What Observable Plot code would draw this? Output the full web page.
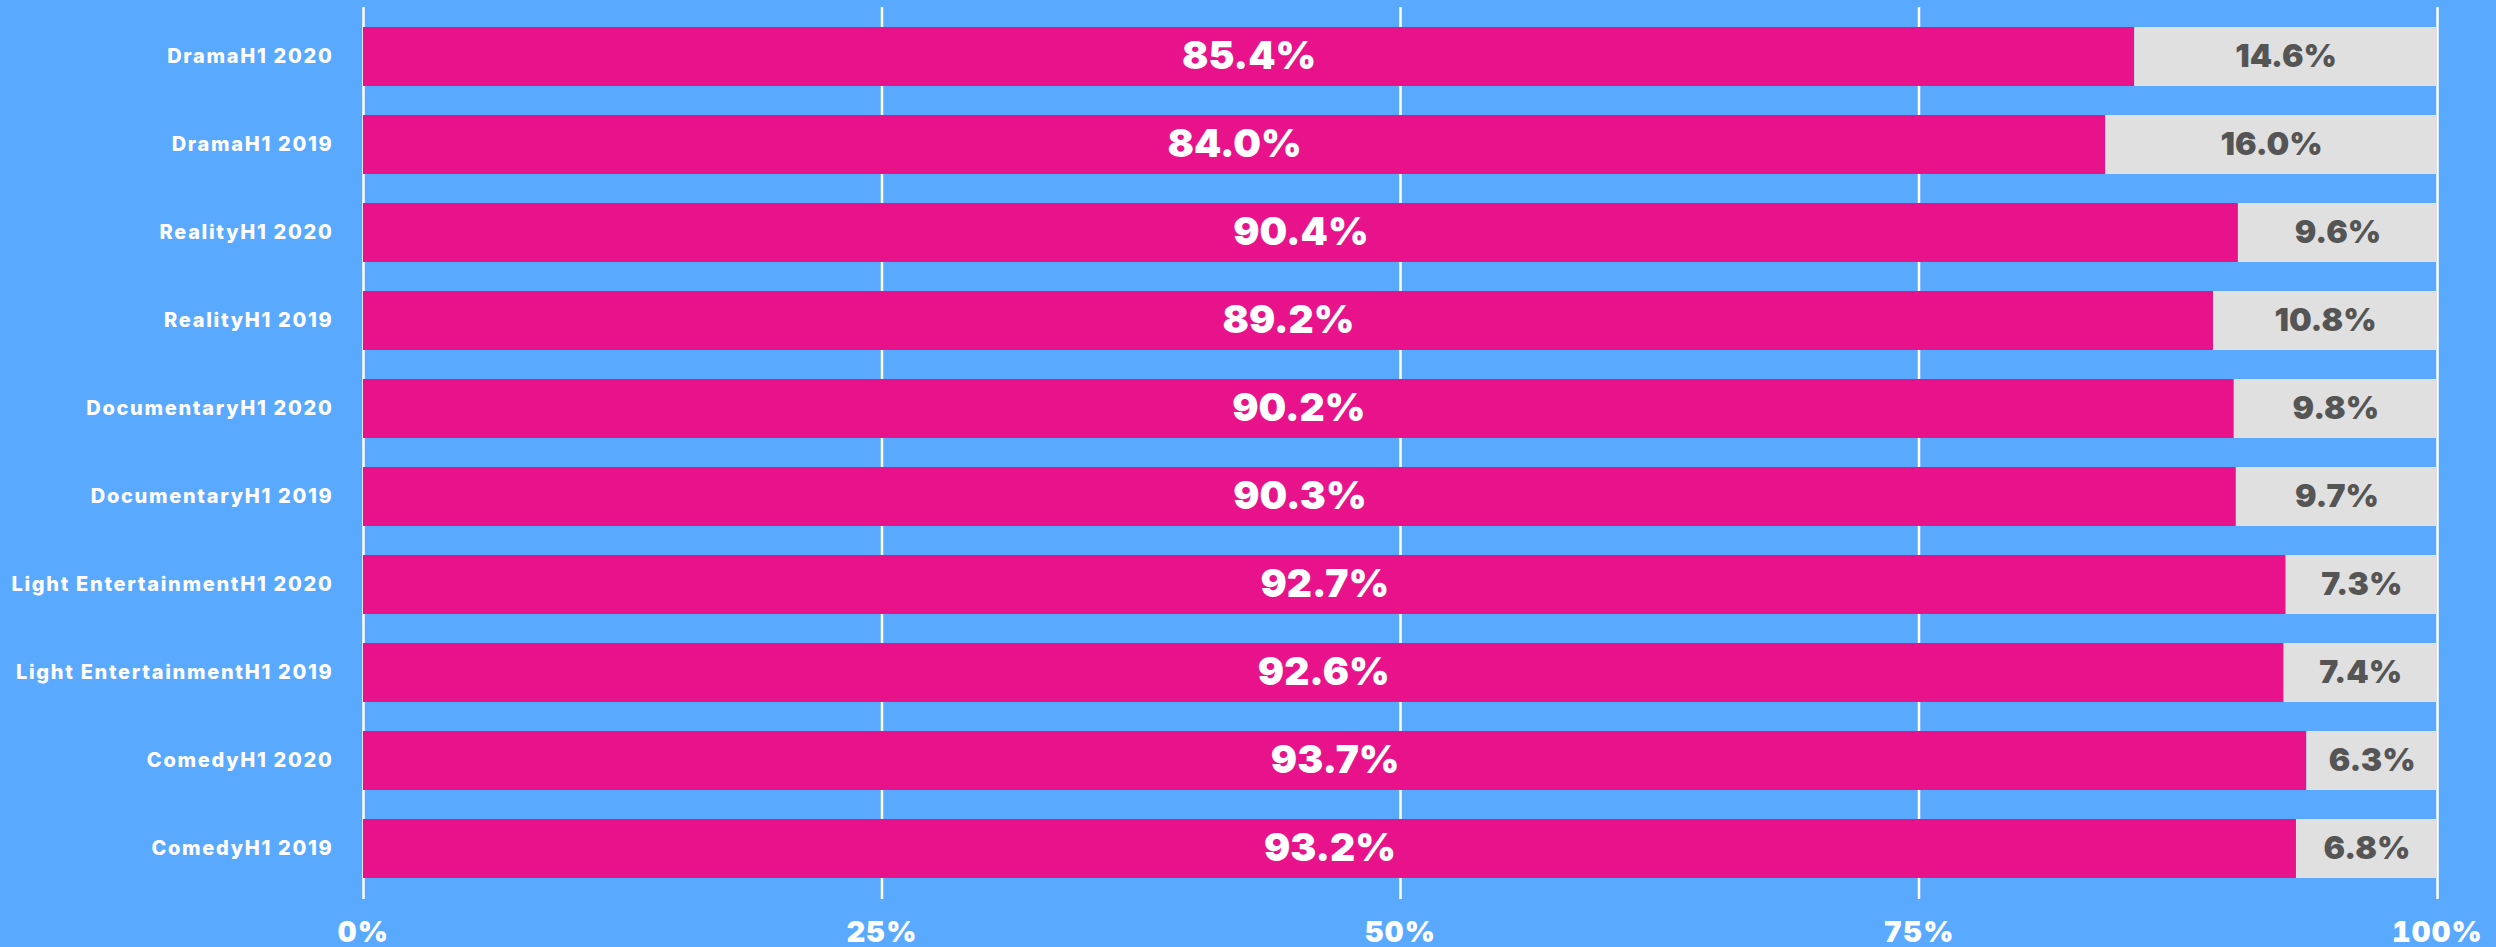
<!DOCTYPE html>
<html>
<head>
<meta charset="utf-8">
<script src="https://cdn.jsdelivr.net/npm/d3@7"></script>
<script src="https://cdn.jsdelivr.net/npm/@observablehq/plot@0.6"></script>
<style>
html, body { margin: 0; padding: 0; background: #59A9FF; }
#chart svg { display: block; }
</style>
</head>
<body>
<div id="chart"></div>
<script>
const genres = ["Drama", "Drama", "Reality", "Reality", "Documentary", "Documentary", "Light Entertainment", "Light Entertainment", "Comedy", "Comedy"];
const periods = ["H1 2020", "H1 2019", "H1 2020", "H1 2019", "H1 2020", "H1 2019", "H1 2020", "H1 2019", "H1 2020", "H1 2019"];
const shareMain = [85.4, 84.0, 90.4, 89.2, 90.2, 90.3, 92.7, 92.6, 93.7, 93.2];
const shareRest = [14.6, 16.0, 9.6, 10.8, 9.8, 9.7, 7.3, 7.4, 6.3, 6.8];
const parts = ["main", "rest"];
const xTicks = [0, 25, 50, 75, 100];

const labels = genres.map((g, i) => g + periods[i]);
const rows = [];
labels.forEach((l, i) => {
  rows.push({label: l, part: parts[0], value: shareMain[i]});
  rows.push({label: l, part: parts[1], value: shareRest[i]});
});
const fmt = v => v.toFixed(1) + "%";
const FONT = "Inter, 'Open Sans', sans-serif";

const chart = Plot.plot({
  width: 2496,
  height: 947,
  marginTop: 7,
  marginBottom: 48,
  marginLeft: 363,
  marginRight: 59,
  style: {background: "#59A9FF", fontFamily: FONT, color: "white", overflow: "visible"},
  x: {domain: [0, 100]},
  y: {domain: labels, range: [9, 896], paddingInner: 0.335, paddingOuter: 0.17},
  color: {domain: parts, range: ["#E8128A", "#E0E0E0"]},
  marks: [
    Plot.ruleX(xTicks, {stroke: "white", strokeWidth: 2.5}),
    Plot.barX(rows, {y: "label", x: "value", fill: "part"}),
    Plot.text(rows, Plot.stackX({y: "label", x: "value", text: d => d.part === parts[0] ? fmt(d.value) : "", fill: "white", fontSize: 39, fontWeight: 900, fontFamily: FONT})),
    Plot.text(rows, Plot.stackX({y: "label", x: "value", text: d => d.part === parts[1] ? fmt(d.value) : "", fill: "#555555", fontSize: 32, fontWeight: 900, fontFamily: FONT})),
    Plot.axisY({tickSize: 0, tickPadding: 30, fontSize: 20, fontWeight: 800, fill: "white", label: null, fontFamily: FONT}),
    Plot.axisX(xTicks, {tickSize: 0, tickPadding: 22, fontSize: 29, fontWeight: 900, fill: "white", label: null, tickFormat: d => d + "%", fontFamily: FONT})
  ]
});
d3.select(chart).selectAll("g[aria-label='y-axis tick label'] text").style("letter-spacing", "0.085em");
d3.select(chart).selectAll("g[aria-label='x-axis tick label'] text").style("letter-spacing", "0.04em");
document.getElementById("chart").appendChild(chart);
</script>
</body>
</html>
